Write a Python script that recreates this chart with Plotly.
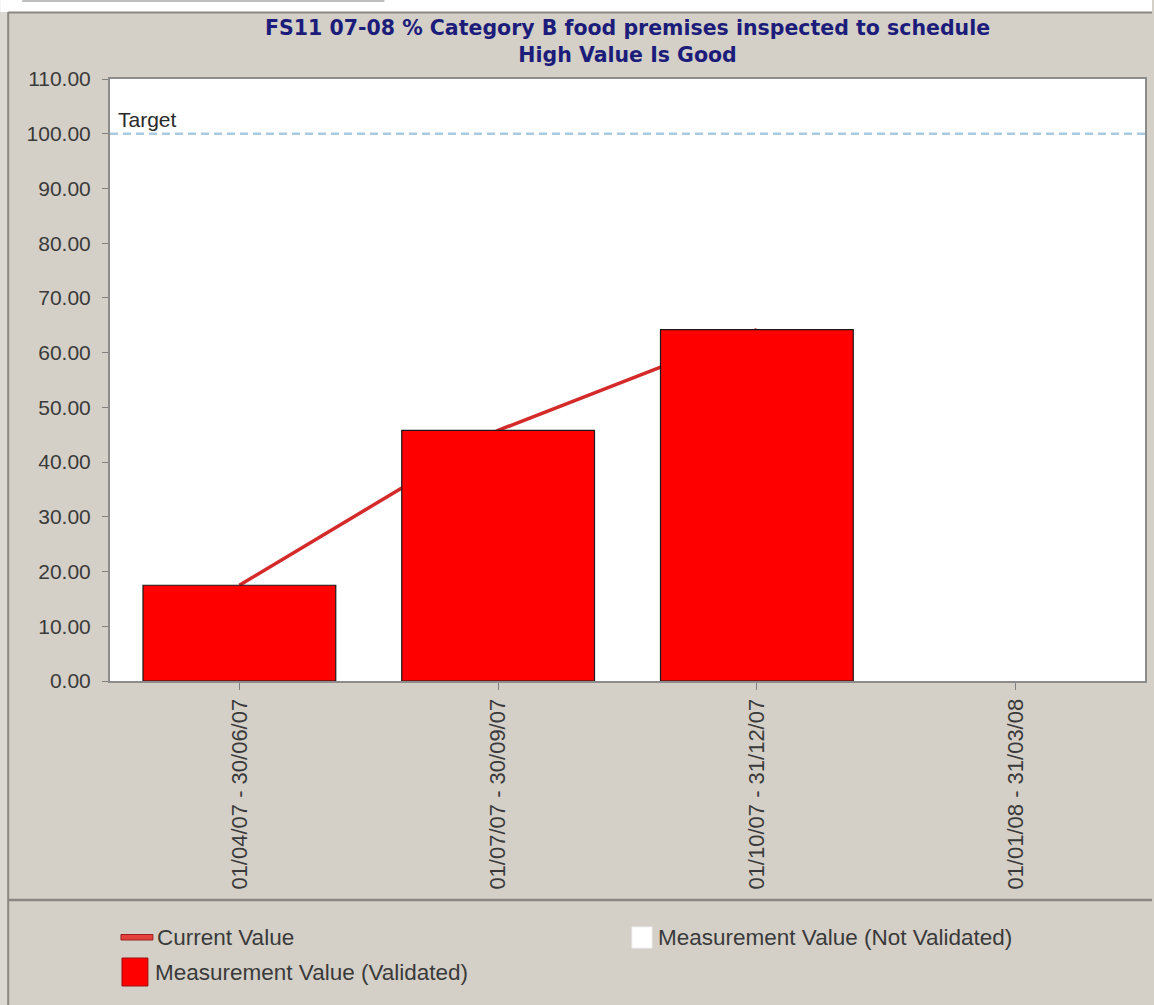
import plotly.graph_objects as go

# ---------------- data ----------------
categories = ["01/04/07 - 30/06/07", "01/07/07 - 30/09/07",
              "01/10/07 - 31/12/07", "01/01/08 - 31/03/08"]
validated_values = [17.5, 45.8, 64.2, None]
not_validated_values = [None, None, None, None]
current_values = [17.5, 45.8, 64.2, None]
target_value = 100
y_tick_values = [0, 10, 20, 30, 40, 50, 60, 70, 80, 90, 100, 110]
title_line1 = "FS11 07-08 % Category B food premises inspected to schedule"
title_line2 = "High Value Is Good"
legend_labels = ["Current Value", "Measurement Value (Not Validated)",
                 "Measurement Value (Validated)"]

# ---------------- layout geometry ----------------
W, H = 1154, 1005
L, R, T, B = 110, 1147, 79, 681


def px(x):
    return (x - L) / (R - L)


def py(y):
    return (B - y) / (B - T)


BG = "#d4d0c8"
TXT = "#3a3a3a"
FONT = "Liberation Sans, Arial, sans-serif"

fig = go.Figure()

# line on the base axes (drawn behind)
fig.add_trace(go.Scatter(
    x=categories, y=current_values, mode="lines",
    line=dict(color="#d42a2a", width=3.5),
    name=legend_labels[0], showlegend=False, hoverinfo="skip",
    xaxis="x", yaxis="y"))

# bars on overlaying axes so they sit on top of the line
fig.add_trace(go.Bar(
    x=categories, y=not_validated_values, width=0.745,
    marker=dict(color="#ffffff", line=dict(color="#1a1a1a", width=1)),
    name=legend_labels[1], showlegend=False, xaxis="x2", yaxis="y2"))

fig.add_trace(go.Bar(
    x=categories, y=validated_values, width=0.745,
    marker=dict(color="#ff0000", line=dict(color="#1a1a1a", width=1.2)),
    name=legend_labels[2], showlegend=False, xaxis="x2", yaxis="y2"))

shapes = []
annotations = []

# target line
shapes.append(dict(type="line", xref="paper", yref="y", x0=0, x1=1,
                   y0=target_value, y1=target_value,
                   line=dict(color="#a9cbe0", width=2.5, dash="8px,5px")))
annotations.append(dict(text="Target", xref="paper", yref="y", x=px(116),
                        y=target_value, xanchor="left", yanchor="bottom",
                        yshift=1, showarrow=False,
                        font=dict(family=FONT, size=21, color="#2a2a2a")))

# frame decorations
shapes += [
    dict(type="rect", xref="paper", yref="paper", x0=px(0), x1=px(W),
         y0=py(12), y1=py(0), fillcolor="#ffffff", line=dict(width=0), layer="below"),
    dict(type="rect", xref="paper", yref="paper", x0=px(0), x1=px(7),
         y0=py(H), y1=py(12), fillcolor="#dcd9d3", line=dict(width=0), layer="below"),
    dict(type="line", xref="paper", yref="paper", x0=px(22), x1=px(385),
         y0=py(1), y1=py(1), line=dict(color="#a8a8a8", width=1.5)),
    dict(type="line", xref="paper", yref="paper", x0=px(8), x1=px(8),
         y0=py(12), y1=py(H), line=dict(color="#8c8882", width=2)),
    dict(type="line", xref="paper", yref="paper", x0=px(8), x1=px(W),
         y0=py(12.5), y1=py(12.5), line=dict(color="#8c8882", width=2)),
    dict(type="line", xref="paper", yref="paper", x0=px(8), x1=px(W),
         y0=py(900), y1=py(900), line=dict(color="#8a8782", width=2.5)),
]

# title (single two-line text)
annotations.append(dict(text="<b>" + title_line1 + "<br>" + title_line2 + "</b>",
                        xref="paper", yref="paper",
                        x=0.5, y=py(42), xanchor="center", yanchor="middle",
                        align="center", showarrow=False,
                        font=dict(family="DejaVu Sans, Verdana, sans-serif",
                                  size=20.5, color="#1c1c7a")))

# manual legend
shapes += [
    dict(type="rect", xref="paper", yref="paper", x0=px(121), x1=px(153),
         y0=py(940), y1=py(934.5), fillcolor="#e5403a",
         line=dict(color="#9a2020", width=1)),
    dict(type="rect", xref="paper", yref="paper", x0=px(633), x1=px(653),
         y0=py(948), y1=py(927), fillcolor="#ffffff",
         line=dict(color="#f0f0f0", width=1)),
    dict(type="rect", xref="paper", yref="paper", x0=px(122), x1=px(148),
         y0=py(986), y1=py(958), fillcolor="#ff0000",
         line=dict(color="#9a1010", width=1)),
]
legend_pos = [(155, 937), (657, 937), (153, 972)]
for lbl, (lx, ly) in zip(legend_labels, legend_pos):
    annotations.append(dict(text=lbl, xref="paper", yref="paper", x=px(lx), y=py(ly),
                            xanchor="left", yanchor="middle", showarrow=False,
                            font=dict(family=FONT, size=22.5, color=TXT)))

fig.update_layout(
    width=W, height=H,
    margin=dict(l=L, r=W - R, t=T, b=H - B, pad=0),
    paper_bgcolor=BG, plot_bgcolor="#ffffff",
    barmode="overlay", showlegend=False,
    shapes=shapes, annotations=annotations,
    xaxis=dict(type="category", range=[-0.5, 3.5], showgrid=False,
               categoryorder="array", categoryarray=categories,
               ticks="outside", ticklen=7, tickwidth=1, tickcolor="#808080",
               tickangle=-90, tickfont=dict(family=FONT, size=22, color=TXT),
               showline=True, mirror=True, linecolor="#8c8c8c", linewidth=2),
    yaxis=dict(range=[0, 110], tickvals=y_tick_values, tickformat=".2f",
               showgrid=False, zeroline=False,
               ticks="outside", ticklen=6, tickwidth=1, tickcolor="#808080",
               ticklabelstandoff=7,
               tickfont=dict(family=FONT, size=21, color=TXT),
               showline=True, mirror=True, linecolor="#8c8c8c", linewidth=2),
    xaxis2=dict(type="category", range=[-0.5, 3.5], overlaying="x",
                categoryorder="array", categoryarray=categories,
                visible=False, showgrid=False),
    yaxis2=dict(range=[0, 110], overlaying="y", visible=False,
                showgrid=False, zeroline=False),
)

fig.write_html("out.html")
